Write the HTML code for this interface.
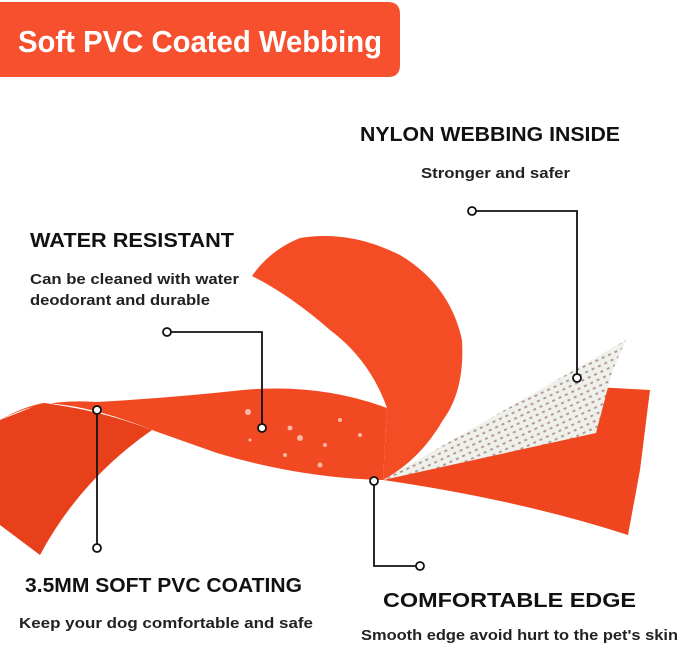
<!DOCTYPE html>
<html><head><meta charset="utf-8"><style>
html,body{margin:0;padding:0;background:#fff}
svg{display:block}
text{font-family:"Liberation Sans",sans-serif}
</style></head><body>
<svg width="679" height="645" viewBox="0 0 679 645" xmlns="http://www.w3.org/2000/svg">
<defs>
<pattern id="mesh" width="7" height="6" patternUnits="userSpaceOnUse" patternTransform="rotate(-25)">
<rect width="7" height="6" fill="#eef0ea"/>
<rect x="2" y="2" width="3" height="2" fill="#b89a9c"/>
</pattern>
</defs>
<path d="M0 2 H388 Q400 2 400 14 V65 Q400 77 388 77 H0 Z" fill="#f6502f"/>
<text x="18" y="52" font-size="31" font-weight="bold" fill="#fff" textLength="364" lengthAdjust="spacingAndGlyphs">Soft PVC Coated Webbing</text>

<path d="M383 480 L596 387 L650 390 L640 470 L628 535 Q520 500 383 480 Z" fill="#f0461f"/>
<path d="M0 420 L0 525 L40 555 Q80 480 152 430 Q100 410 43 403 Z" fill="#e8401b"/>
<path d="M0 420 Q40 398 96 402 Q170 398 243 390 Q320 383 387 408 L383 480 Q300 478 217 453 Q180 440 152 430 Q90 405 43 403 Q20 408 0 420 Z" fill="#f14a22"/>
<path d="M252 276 Q270 250 300 238 Q350 230 400 255 Q450 285 462 340 Q465 390 443 420 Q420 460 383 480 L387 408 Q370 360 330 330 Q290 295 252 276 Z" fill="#f44c24"/>
<path d="M383 480 L626 340 L612 372 L596 433 Z" fill="url(#mesh)"/>
<g fill="#fbd3c8" opacity="0.8">
<circle cx="248" cy="412" r="3"/><circle cx="290" cy="428" r="2.5"/><circle cx="300" cy="438" r="3"/>
<circle cx="325" cy="445" r="2"/><circle cx="340" cy="420" r="2"/><circle cx="360" cy="435" r="2"/>
<circle cx="285" cy="455" r="2"/><circle cx="320" cy="465" r="2.5"/><circle cx="250" cy="440" r="1.5"/>
</g>

<g stroke="#111" stroke-width="1.8" fill="none">
<polyline points="476,211 577,211 577,374"/>
<circle cx="472" cy="211" r="4" fill="#fff"/>
<circle cx="577" cy="378" r="4" fill="#fff"/>
<polyline points="171,332 262,332 262,424"/>
<circle cx="167" cy="332" r="4" fill="#fff"/>
<circle cx="262" cy="428" r="4" fill="#fff"/>
<line x1="97" y1="414" x2="97" y2="544"/>
<circle cx="97" cy="410" r="4" fill="#fff"/>
<circle cx="97" cy="548" r="4" fill="#fff"/>
<polyline points="374,485 374,566 416,566"/>
<circle cx="374" cy="481" r="4" fill="#fff"/>
<circle cx="420" cy="566" r="4" fill="#fff"/>
</g>

<g fill="#111">
<g font-weight="bold">
<text x="360" y="141" font-size="20" textLength="260" lengthAdjust="spacingAndGlyphs">NYLON WEBBING INSIDE</text>
<text x="30" y="247" font-size="20" textLength="204" lengthAdjust="spacingAndGlyphs">WATER RESISTANT</text>
<text x="25" y="592" font-size="20" textLength="277" lengthAdjust="spacingAndGlyphs">3.5MM SOFT PVC COATING</text>
<text x="383" y="607" font-size="20" textLength="253" lengthAdjust="spacingAndGlyphs">COMFORTABLE EDGE</text>
</g>
<g font-weight="bold" fill="#222">
<text x="421" y="178" font-size="14.5" textLength="149" lengthAdjust="spacingAndGlyphs">Stronger and safer</text>
<text x="30" y="284" font-size="14.5" textLength="209" lengthAdjust="spacingAndGlyphs">Can be cleaned with water</text>
<text x="30" y="305" font-size="14.5" textLength="180" lengthAdjust="spacingAndGlyphs">deodorant and durable</text>
<text x="19" y="628" font-size="14.5" textLength="294" lengthAdjust="spacingAndGlyphs">Keep your dog comfortable and safe</text>
<text x="361" y="640" font-size="14.5" textLength="317" lengthAdjust="spacingAndGlyphs">Smooth edge avoid hurt to the pet's skin</text>
</g>
</g>
</svg>
</body></html>
